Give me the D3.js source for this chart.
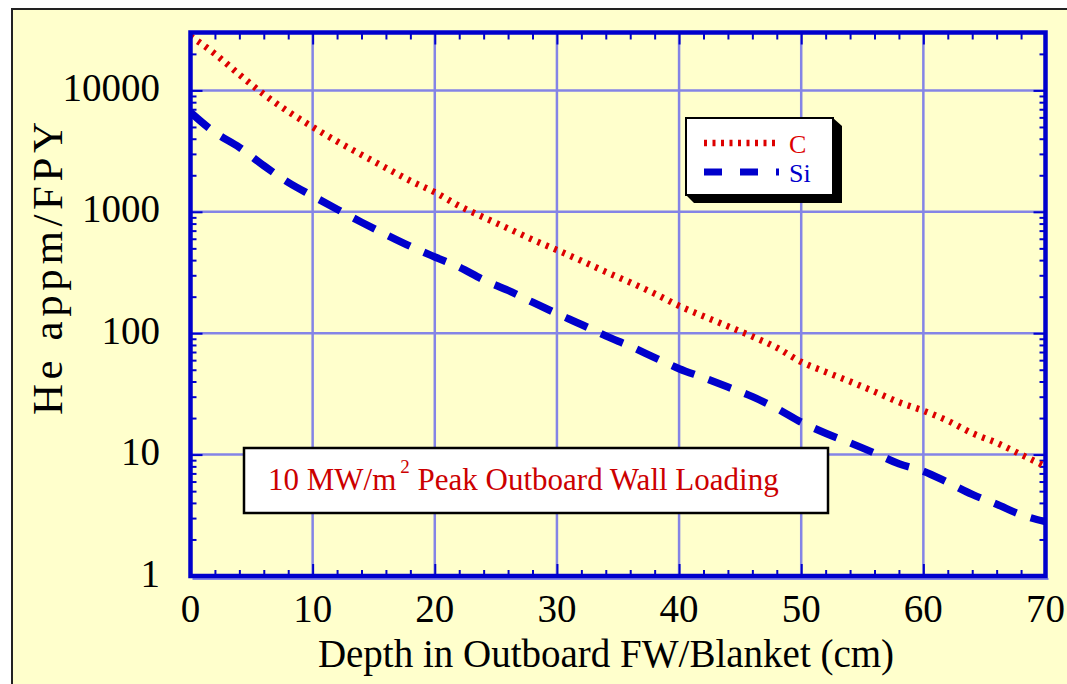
<!DOCTYPE html>
<html>
<head>
<meta charset="utf-8">
<script src="https://cdn.jsdelivr.net/npm/d3@7/dist/d3.min.js"></script>
<style>
  body { margin: 0; background: #fff; }
  text { font-family: "Liberation Serif", "Times New Roman", serif; }
</style>
</head>
<body>
<div id="chart"></div>
<script>
// depth in cm (every 2 cm)
var depth = [0, 2, 4, 6, 8, 10, 12, 14, 16, 18, 20, 22, 24, 26, 28, 30, 32, 34,
             36, 38, 40, 42, 44, 46, 48, 50, 52, 54, 56, 58, 60, 62, 64, 66, 68, 70];
// He appm/FPY
var heC  = [28000, 20000, 13500, 9300, 6700, 5000, 3800, 2950, 2300, 1800, 1450, 1120,
            900, 730, 590, 485, 395, 320, 262, 212, 168, 138, 114, 94, 76, 58,
            48, 40, 33, 27, 23, 19, 15, 12.5, 10, 8];
var heSi = [6600, 4500, 3400, 2400, 1750, 1350, 1050, 820, 650, 520, 425, 350,
            275, 225, 180, 145, 118, 95, 78, 63, 51, 43, 36, 30, 24, 18.5,
            15, 12.5, 10.3, 8.4, 7.3, 5.9, 4.7, 3.9, 3.2, 2.8];
var seriesNames = ["C", "Si"];
var xTicks = [0, 10, 20, 30, 40, 50, 60, 70];
var yTicks = [1, 10, 100, 1000, 10000];

var W = 1067, H = 684;
var pLeft = 190.5, pRight = 1045.5, pTop = 32.5, pBottom = 576;

var svg = d3.select("#chart").append("svg").attr("width", W).attr("height", H);

// outer frame
svg.append("rect").attr("x", 12).attr("y", 9).attr("width", W).attr("height", H)
  .attr("fill", "#FFFFCC").attr("stroke", "#222").attr("stroke-width", 2);

var x = d3.scaleLinear().domain([0, 70]).range([pLeft, pRight]);
var y = d3.scaleLog().domain([1, 30000]).range([pBottom, pTop]);

var xMinor = d3.range(0, 71, 2).filter(function(v) { return v % 10 !== 0; });
var yMinor = [];
yTicks.forEach(function(d) {
  for (var k = 2; k <= 9; k++) if (d * k < 30000) yMinor.push(d * k);
});

var blue = "#0000CC", grid = "#8484E6", red = "#DD0000";

// grid
var g = svg.append("g");
g.selectAll(".gx").data(xTicks.slice(1, -1)).enter().append("line")
  .attr("x1", x).attr("x2", x).attr("y1", pTop).attr("y2", pBottom)
  .attr("stroke", grid).attr("stroke-width", 2.5);
g.selectAll(".gy").data(yTicks.slice(1)).enter().append("line")
  .attr("y1", y).attr("y2", y).attr("x1", pLeft).attr("x2", pRight)
  .attr("stroke", grid).attr("stroke-width", 2.5);

// ticks (inside on all four sides)
function ticks(axis, tr) {
  var a = svg.append("g").attr("transform", tr).call(axis);
  a.select(".domain").remove();
  a.selectAll("line").attr("stroke", blue).attr("stroke-width", 2);
}
ticks(d3.axisBottom(x).tickValues(xMinor).tickSize(-6).tickFormat(""), "translate(0," + pBottom + ")");
ticks(d3.axisBottom(x).tickValues(xTicks).tickSize(-12).tickFormat(""), "translate(0," + pBottom + ")");
ticks(d3.axisTop(x).tickValues(xMinor).tickSize(-7).tickFormat(""), "translate(0," + pTop + ")");
ticks(d3.axisTop(x).tickValues(xTicks).tickSize(-12).tickFormat(""), "translate(0," + pTop + ")");
ticks(d3.axisLeft(y).tickValues(yMinor).tickSize(-6).tickFormat(""), "translate(" + pLeft + ",0)");
ticks(d3.axisLeft(y).tickValues(yTicks).tickSize(-12).tickFormat(""), "translate(" + pLeft + ",0)");
ticks(d3.axisRight(y).tickValues(yMinor).tickSize(-6).tickFormat(""), "translate(" + pRight + ",0)");
ticks(d3.axisRight(y).tickValues(yTicks).tickSize(-12).tickFormat(""), "translate(" + pRight + ",0)");

// tick labels
svg.selectAll(".xl").data(xTicks).enter().append("text")
  .attr("x", x).attr("y", 622).attr("text-anchor", "middle")
  .style("font-size", "39px").text(function(d) { return d; });
svg.selectAll(".yl").data(yTicks).enter().append("text")
  .attr("x", 160).attr("y", function(d) { return y(d) + 10.5; }).attr("text-anchor", "end")
  .style("font-size", "39px").text(function(d) { return d; });

// axis titles
svg.append("text").attr("x", 606).attr("y", 667).attr("text-anchor", "middle")
  .style("font-size", "39px").text("Depth in Outboard FW/Blanket (cm)");
svg.append("text").attr("transform", "translate(62,415) rotate(-90)")
  .attr("textLength", 293).attr("lengthAdjust", "spacing")
  .style("font-size", "43px").text("He appm/FPY");

// curves
var line = d3.line().x(function(d) { return x(d[0]); }).y(function(d) { return y(d[1]); })
  .curve(d3.curveMonotoneX);
svg.append("clipPath").attr("id", "clip").append("rect")
  .attr("x", pLeft).attr("y", pTop).attr("width", pRight - pLeft).attr("height", pBottom - pTop);
var plot = svg.append("g").attr("clip-path", "url(#clip)");
plot.append("path").datum(d3.zip(depth, heSi)).attr("d", line)
  .attr("fill", "none").attr("stroke", blue).attr("stroke-width", 7.5)
  .attr("stroke-dasharray", "24,15");
plot.append("path").datum(d3.zip(depth, heC)).attr("d", line)
  .attr("fill", "none").attr("stroke", red).attr("stroke-width", 6.5)
  .attr("stroke-dasharray", "3,6");

// axis frame
svg.append("line").attr("x1", pLeft + 2).attr("x2", pRight + 3).attr("y1", pBottom + 3).attr("y2", pBottom + 3)
  .attr("stroke", grid).attr("stroke-width", 2);
svg.append("rect").attr("x", pLeft).attr("y", pTop).attr("width", pRight - pLeft).attr("height", pBottom - pTop)
  .attr("fill", "none").attr("stroke", blue).attr("stroke-width", 4.5);

// legend
svg.append("polygon").attr("points", "686,195 694,203 842,203 842,126 833,118").attr("fill", "#000");
svg.append("rect").attr("x", 686).attr("y", 118).attr("width", 147).attr("height", 77)
  .attr("fill", "#fff").attr("stroke", "#000").attr("stroke-width", 2);
var legY = [143, 172], legCol = [red, blue], legDash = ["3,5.5", "18,18"], legW = [6.5, 7];
seriesNames.forEach(function(n, i) {
  svg.append("line").attr("x1", 704).attr("x2", 779).attr("y1", legY[i]).attr("y2", legY[i])
    .attr("stroke", legCol[i]).attr("stroke-width", legW[i]).attr("stroke-dasharray", legDash[i]);
  svg.append("text").attr("x", 789).attr("y", legY[i] + 10).style("font-size", "26px")
    .attr("fill", legCol[i]).text(n);
});

// annotation
svg.append("rect").attr("x", 244).attr("y", 448).attr("width", 584).attr("height", 65)
  .attr("fill", "#fff").attr("stroke", "#000").attr("stroke-width", 2.5);
var note = svg.append("text").attr("x", 268).attr("y", 490).attr("fill", "#CC0000").style("font-size", "31px");
note.append("tspan").text("10 MW/m");
note.append("tspan").attr("dx", 4).attr("dy", -17).style("font-size", "19px").text("2");
note.append("tspan").attr("dy", 17).text(" Peak Outboard Wall Loading");
</script>
</body>
</html>
